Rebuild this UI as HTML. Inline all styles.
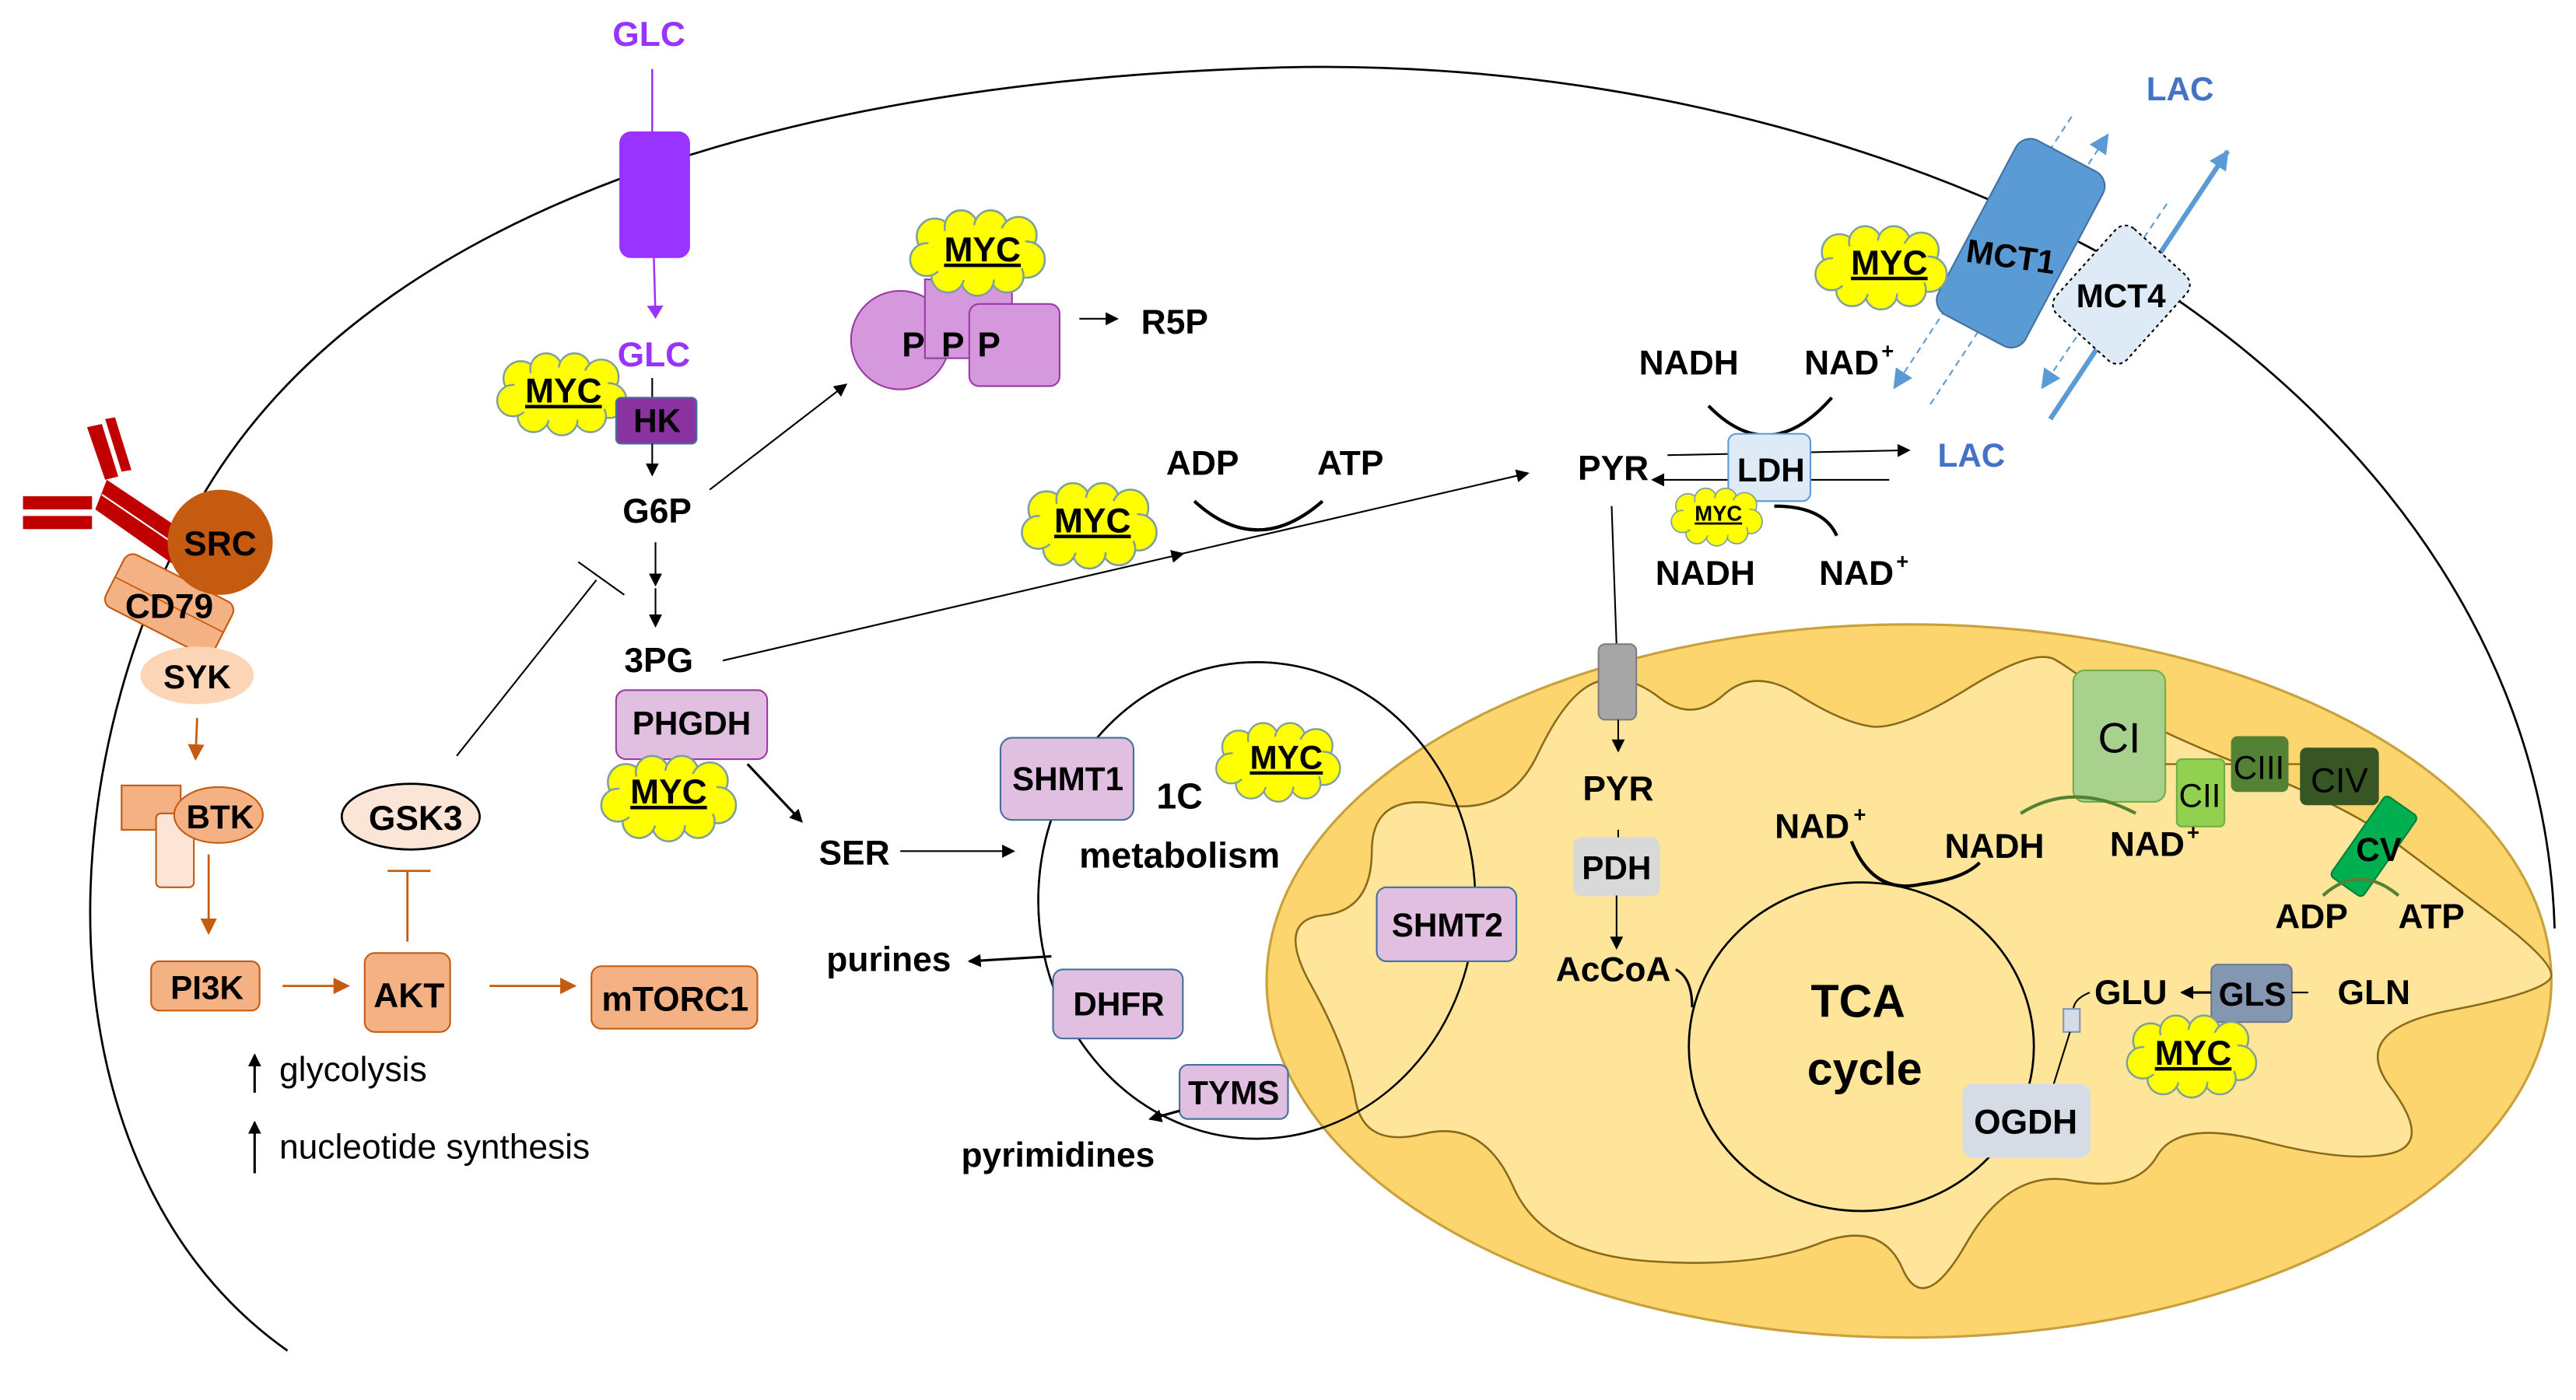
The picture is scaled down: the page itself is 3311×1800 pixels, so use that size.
<!DOCTYPE html>
<html><head><meta charset="utf-8"><style>
html,body{margin:0;padding:0;background:#fff;}
svg{display:block;}
text{font-family:"Liberation Sans",sans-serif;font-weight:bold;fill:#000;text-anchor:middle;}
.n{font-weight:normal;}
</style></head><body>
<svg width="3311" height="1800" viewBox="0 0 1568 852" preserveAspectRatio="none" xmlns="http://www.w3.org/2000/svg">
<defs>
<marker id="a" markerWidth="8" markerHeight="8" refX="7" refY="4" orient="auto" markerUnits="userSpaceOnUse"><path d="M0,0 L8,4 L0,8 z" fill="#000"/></marker>
<marker id="ap" markerWidth="8" markerHeight="10" refX="7" refY="5" orient="auto" markerUnits="userSpaceOnUse"><path d="M0,0 L8,5 L0,10 z" fill="#9933ff"/></marker>
<marker id="ao" markerWidth="10" markerHeight="10" refX="9" refY="5" orient="auto" markerUnits="userSpaceOnUse"><path d="M0,0 L10,5 L0,10 z" fill="#c55a11"/></marker>
<marker id="ab" markerWidth="12" markerHeight="12" refX="11" refY="6" orient="auto" markerUnits="userSpaceOnUse"><path d="M0,0 L12,6 L0,12 z" fill="#5b9bd5"/></marker>
<symbol id="cloud" viewBox="0 0 80 50" overflow="visible">
<g fill="#ffff00" stroke="#7f9f9f" stroke-width="1.2">
<circle cx="14" cy="16" r="11"/><circle cx="30" cy="10" r="10"/><circle cx="48" cy="10" r="10"/><circle cx="65" cy="15" r="11"/>
<circle cx="70" cy="30" r="11"/><circle cx="58" cy="40" r="10"/><circle cx="40" cy="42" r="10"/><circle cx="22" cy="40" r="10"/><circle cx="9" cy="30" r="10"/>
</g><ellipse cx="40" cy="26" rx="32" ry="17" fill="#ffff00"/>
</symbol>
</defs>

<!-- cell membrane -->
<path d="M175,822 C30,720 20,480 125,299 C220,140 450,50 781,41 C1050,35 1250,130 1329,185 C1450,270 1550,400 1555,565" fill="none" stroke="#000" stroke-width="1.3"/>

<!-- 1C circle -->
<ellipse cx="765" cy="548" rx="133" ry="145" fill="none" stroke="#000" stroke-width="1.2"/>

<!-- mitochondrion -->
<ellipse cx="1162" cy="597" rx="391" ry="217" fill="#fcd56e" stroke="#c9a13c" stroke-width="1.5"/>
<path d="M798,599.5 Q776,560 805.5,557 Q835,554 835,518 Q835,482 876.5,489.5 Q918,497 936,459 Q954,421 972,415 Q990,409 1010,424.5 Q1030,440 1049,423 Q1068,406 1094,422.5 Q1120,439 1138,442 Q1156,445 1197,419.5 Q1238,394 1251,401.5 Q1264,409 1282,424.5 Q1300,440 1364.5,465.5 Q1429,491 1455,510.5 Q1481,530 1517,557 Q1553,584 1553,593.5 Q1553,603 1491,615 Q1429,627 1455,661.5 Q1481,696 1455,702 Q1429,708 1377.5,694.5 Q1326,681 1313,703.5 Q1300,726 1261.5,718.5 Q1223,711 1197,756.5 Q1171,802 1158,772 Q1145,742 1106.5,757 Q1068,772 1003.5,767.5 Q939,763 921,722 Q903,681 866.5,690 Q830,699 825,669 Q820,639 798,599.5 Z" fill="#fee59a" stroke="#8a6a1a" stroke-width="1.2"/>
<ellipse cx="765" cy="548" rx="133" ry="145" fill="none" stroke="#000" stroke-width="1.2"/>
<ellipse cx="1133" cy="637" rx="105" ry="100" fill="none" stroke="#000" stroke-width="1.3"/>
<text x="1131" y="619" style="font-size:28px">TCA</text>
<text x="1135" y="660" style="font-size:28px">cycle</text>

<!-- GLC import -->
<text x="395" y="28" style="font-size:21px;fill:#9933ff">GLC</text>
<line x1="397" y1="42" x2="397" y2="80" stroke="#9933ff" stroke-width="1.2"/>
<rect x="377" y="80" width="43" height="77" rx="7" fill="#9933ff"/>
<line x1="398" y1="157" x2="399" y2="193" stroke="#9933ff" stroke-width="1.2" marker-end="url(#ap)"/>
<text x="398" y="223" style="font-size:21px;fill:#9933ff">GLC</text>
<line x1="397" y1="230" x2="397" y2="244" stroke="#000"/>
<use href="#cloud" x="302" y="215" width="80" height="48"/>
<text x="343" y="245" style="font-size:21px;text-decoration:underline">MYC</text>
<rect x="375" y="242" width="49" height="28" rx="3" fill="#8a32a0" stroke="#41719c"/>
<text x="400" y="263" style="font-size:20px">HK</text>
<line x1="397" y1="270" x2="397" y2="289" stroke="#000" marker-end="url(#a)"/>
<text x="400" y="318" style="font-size:21px">G6P</text>
<line x1="399" y1="330" x2="399" y2="356" stroke="#000" marker-end="url(#a)"/>
<line x1="399" y1="358" x2="399" y2="381" stroke="#000" marker-end="url(#a)"/>
<text x="401" y="409" style="font-size:21px">3PG</text>
<line x1="432" y1="298" x2="515" y2="234" stroke="#000" marker-end="url(#a)"/>

<!-- PPP -->
<circle cx="548" cy="207" r="30" fill="#d598dc" stroke="#9b3aa5"/>
<rect x="563" y="170" width="53" height="48" fill="#d598dc" stroke="#9b3aa5"/>
<rect x="590" y="185" width="55" height="50" rx="6" fill="#d598dc" stroke="#9b3aa5"/>
<text x="556" y="217" style="font-size:21px">P</text><text x="580" y="217" style="font-size:21px">P</text><text x="602" y="217" style="font-size:21px">P</text>
<use href="#cloud" x="555" y="128" width="80" height="50"/>
<text x="598" y="159" style="font-size:21px;text-decoration:underline">MYC</text>
<line x1="657" y1="194" x2="680" y2="194" stroke="#000" marker-end="url(#a)"/>
<text x="715" y="203" style="font-size:21px">R5P</text>

<!-- 3PG -> PYR -->
<line x1="440" y1="402" x2="720" y2="337" stroke="#000" marker-end="url(#a)"/>
<line x1="715" y1="338" x2="930" y2="288" stroke="#000" marker-end="url(#a)"/>
<text x="732" y="289" style="font-size:21px">ADP</text>
<text x="822" y="289" style="font-size:21px">ATP</text>
<path d="M727,305 Q765,340 805,305" fill="none" stroke="#000" stroke-width="2"/>
<use href="#cloud" x="622" y="294" width="82" height="50"/>
<text x="665" y="324" style="font-size:21px;text-decoration:underline">MYC</text>

<!-- GSK3 inhibition -->
<line x1="278" y1="460" x2="363" y2="353" stroke="#000"/>
<line x1="352" y1="342" x2="380" y2="362" stroke="#000"/>

<!-- PHGDH -->
<rect x="375" y="420" width="92" height="42" rx="6" fill="#e0bfe0" stroke="#9b3aa5"/>
<text x="421" y="447" style="font-size:20px">PHGDH</text>
<use href="#cloud" x="366" y="460" width="82" height="50"/>
<text x="407" y="489" style="font-size:21px;text-decoration:underline">MYC</text>
<line x1="455" y1="465" x2="488" y2="500" stroke="#000" stroke-width="1.5" marker-end="url(#a)"/>
<text x="520" y="526" style="font-size:21px">SER</text>
<line x1="548" y1="518" x2="617" y2="518" stroke="#000" marker-end="url(#a)"/>

<!-- 1C -->
<rect x="609" y="449" width="81" height="50" rx="7" fill="#e0bfe0" stroke="#41719c"/>
<text x="650" y="481" style="font-size:20px">SHMT1</text>
<text x="718" y="492" style="font-size:22px">1C</text>
<text x="718" y="528" style="font-size:22px">metabolism</text>
<use href="#cloud" x="738" y="440" width="80" height="46"/>
<text x="783" y="468" style="font-size:20px;text-decoration:underline">MYC</text>
<line x1="640" y1="582" x2="590" y2="585" stroke="#000" stroke-width="1.5" marker-end="url(#a)"/>
<text x="541" y="591" style="font-size:21px">purines</text>
<rect x="641" y="590" width="79" height="42" rx="6" fill="#e0bfe0" stroke="#41719c"/>
<text x="681" y="618" style="font-size:20px">DHFR</text>
<rect x="718" y="648" width="66" height="33" rx="5" fill="#e0bfe0" stroke="#41719c"/>
<text x="751" y="672" style="font-size:20px">TYMS</text>
<line x1="718" y1="676" x2="700" y2="681" stroke="#000" stroke-width="1.5" marker-end="url(#a)"/>
<text x="644" y="710" style="font-size:21px">pyrimidines</text>
<rect x="838" y="540" width="85" height="45" rx="6" fill="#e0bfe0" stroke="#41719c"/>
<text x="881" y="570" style="font-size:20px">SHMT2</text>

<!-- BCR signalling -->
<g fill="#c00000">
<polygon points="53,260 62,258 72,290 64,292"/><polygon points="64,255 70,254 80,286 74,287"/>
<rect x="14" y="302" width="42" height="8"/><rect x="14" y="314" width="42" height="8"/>
<polygon points="65,292 122,330 112,348 58,310"/>
</g>
<line x1="62" y1="301" x2="118" y2="339" stroke="#fff" stroke-width="1"/>
<g transform="rotate(27 103 368)">
<rect x="66" y="350" width="74" height="36" rx="6" fill="#f4b183" stroke="#c55a11"/>
<line x1="66" y1="368" x2="140" y2="368" stroke="#c55a11" stroke-width="0.8"/>
</g>
<circle cx="134" cy="330" r="32" fill="#c55a11"/>
<text x="134" y="338" style="font-size:21px">SRC</text>
<text x="103" y="376" style="font-size:21px">CD79</text>
<ellipse cx="120" cy="411" rx="34" ry="17" fill="#fbd5b5" stroke="#fbd5b5"/>
<text x="120" y="419" style="font-size:20px">SYK</text>
<line x1="120" y1="437" x2="119" y2="462" stroke="#c55a11" stroke-width="1.3" marker-end="url(#ao)"/>
<rect x="74" y="478" width="36" height="27" fill="#f4b183" stroke="#c55a11"/>
<rect x="95" y="495" width="23" height="45" rx="3" fill="#fce4d6" stroke="#c55a11"/>
<ellipse cx="133" cy="496" rx="27" ry="17" fill="#f4b183" stroke="#c55a11"/>
<text x="134" y="504" style="font-size:20px">BTK</text>
<line x1="127" y1="520" x2="127" y2="568" stroke="#c55a11" stroke-width="1.3" marker-end="url(#ao)"/>
<rect x="92" y="585" width="66" height="30" rx="5" fill="#f4b183" stroke="#c55a11"/>
<text x="126" y="608" style="font-size:20px">PI3K</text>
<line x1="172" y1="600" x2="212" y2="600" stroke="#c55a11" stroke-width="1.3" marker-end="url(#ao)"/>
<rect x="222" y="580" width="52" height="48" rx="6" fill="#f4b183" stroke="#c55a11"/>
<text x="249" y="613" style="font-size:21px">AKT</text>
<line x1="298" y1="600" x2="350" y2="600" stroke="#c55a11" stroke-width="1.3" marker-end="url(#ao)"/>
<rect x="360" y="588" width="101" height="38" rx="6" fill="#f4b183" stroke="#c55a11"/>
<text x="411" y="615" style="font-size:21px">mTORC1</text>
<ellipse cx="250" cy="497" rx="42" ry="20" fill="#fbe5d6" stroke="#000" stroke-width="1.3"/>
<text x="253" y="505" style="font-size:21px">GSK3</text>
<line x1="248" y1="573" x2="248" y2="530" stroke="#c55a11" stroke-width="1.3"/>
<line x1="236" y1="530" x2="262" y2="530" stroke="#c55a11" stroke-width="1.3"/>
<line x1="155" y1="665" x2="155" y2="642" stroke="#000" stroke-width="1.5" marker-end="url(#a)"/>
<text x="170" y="658" class="n" style="font-size:21px;text-anchor:start">glycolysis</text>
<line x1="155" y1="714" x2="155" y2="683" stroke="#000" stroke-width="1.5" marker-end="url(#a)"/>
<text x="170" y="705" class="n" style="font-size:21px;text-anchor:start">nucleotide synthesis</text>

<!-- MCT -->
<line x1="1261" y1="71" x2="1153" y2="236" stroke="#5b9bd5" stroke-width="1" stroke-dasharray="4,3" marker-end="url(#ab)"/>
<line x1="1175" y1="246" x2="1283" y2="82" stroke="#5b9bd5" stroke-width="1" stroke-dasharray="4,3" marker-end="url(#ab)"/>
<line x1="1319" y1="124" x2="1243" y2="236" stroke="#5b9bd5" stroke-width="1" stroke-dasharray="4,3" marker-end="url(#ab)"/>
<line x1="1248" y1="255" x2="1356" y2="92" stroke="#5b9bd5" stroke-width="3" marker-end="url(#ab)"/>
<g transform="rotate(28 1230 148)"><rect x="1200" y="88" width="60" height="120" rx="10" fill="#5b9bd5" stroke="#41719c"/></g>
<g transform="rotate(42 1292 180)"><rect x="1262" y="145" width="58" height="70" rx="8" fill="#deebf7" stroke="#000" stroke-dasharray="2,2"/></g>
<text x="1224" y="163" style="font-size:20px" transform="rotate(8 1224 156)">MCT1</text>
<text x="1291" y="187" style="font-size:20px">MCT4</text>
<use href="#cloud" x="1106" y="137" width="78" height="50"/>
<text x="1150" y="167" style="font-size:21px;text-decoration:underline">MYC</text>
<text x="1327" y="61" style="font-size:20px;fill:#4472c4">LAC</text>

<!-- LDH -->
<text x="1028" y="228" style="font-size:21px">NADH</text>
<text x="1121" y="228" style="font-size:21px">NAD</text><text x="1149" y="218" style="font-size:13px">+</text>
<path d="M1040,247 Q1077,285 1115,242" fill="none" stroke="#000" stroke-width="2"/>
<text x="982" y="292" style="font-size:21px">PYR</text>
<line x1="1015" y1="277" x2="1162" y2="274" stroke="#000" marker-end="url(#a)"/>
<line x1="1150" y1="292" x2="1006" y2="292" stroke="#000" marker-end="url(#a)"/>
<rect x="1052" y="264" width="50" height="41" rx="5" fill="#deebf7" stroke="#5b9bd5"/>
<text x="1078" y="293" style="font-size:20px">LDH</text>
<text x="1200" y="284" style="font-size:20px;fill:#4472c4">LAC</text>
<path d="M1080,308 Q1110,308 1118,326" fill="none" stroke="#000" stroke-width="2"/>
<use href="#cloud" x="1018" y="296" width="54" height="36"/>
<text x="1046" y="317" style="font-size:13px;text-decoration:underline">MYC</text>
<text x="1038" y="356" style="font-size:21px">NADH</text>
<text x="1130" y="356" style="font-size:21px">NAD</text><text x="1158" y="346" style="font-size:13px">+</text>

<!-- mito contents -->
<line x1="981" y1="308" x2="984" y2="393" stroke="#000" stroke-width="1"/>
<rect x="973" y="392" width="23" height="46" rx="4" fill="#a6a6a6" stroke="#7f7f7f"/>
<line x1="985" y1="438" x2="985" y2="457" stroke="#000" marker-end="url(#a)"/>
<text x="985" y="487" style="font-size:21px">PYR</text>
<line x1="985" y1="505" x2="985" y2="512" stroke="#000"/>
<rect x="958" y="510" width="52" height="35" rx="5" fill="#d9d9d9" stroke="#d9d9d9"/>
<text x="984" y="535" style="font-size:20px">PDH</text>
<line x1="984" y1="545" x2="984" y2="577" stroke="#000" marker-end="url(#a)"/>
<text x="982" y="597" style="font-size:21px">AcCoA</text>
<path d="M1020,590 Q1030,595 1030,613" fill="none" stroke="#000" stroke-width="1.5"/>
<text x="1103" y="510" style="font-size:21px">NAD</text><text x="1132" y="500" style="font-size:13px">+</text>
<text x="1214" y="522" style="font-size:21px">NADH</text>
<path d="M1127,512 Q1140,545 1170,538 Q1195,535 1205,525" fill="none" stroke="#000" stroke-width="2"/>
<rect x="1262" y="408" width="56" height="80" rx="7" fill="#a9d18e" stroke="#70ad47"/>
<text x="1290" y="458" class="n" style="font-size:26px">CI</text>
<line x1="1318" y1="465" x2="1400" y2="465" stroke="#7f6000" stroke-width="1"/>
<rect x="1325" y="462" width="29" height="41" rx="3" fill="#92d050" stroke="#70ad47"/>
<text x="1339" y="491" class="n" style="font-size:20px">CII</text>
<rect x="1358" y="448" width="35" height="34" rx="4" fill="#548235"/>
<text x="1375" y="474" class="n" style="font-size:20px">CIII</text>
<rect x="1400" y="455" width="48" height="35" rx="4" fill="#375623"/>
<text x="1424" y="482" class="n" style="font-size:21px">CIV</text>
<g transform="rotate(35 1445 515)"><rect x="1433" y="485" width="24" height="60" rx="3" fill="#00b050" stroke="#00803a"/></g>
<text x="1448" y="524" style="font-size:20px">CV</text>
<path d="M1230,495 Q1262,475 1300,495" fill="none" stroke="#548235" stroke-width="2"/>
<text x="1307" y="521" style="font-size:21px">NAD</text><text x="1335" y="511" style="font-size:13px">+</text>
<path d="M1414,545 Q1436,525 1460,545" fill="none" stroke="#548235" stroke-width="2"/>
<text x="1407" y="565" style="font-size:21px">ADP</text>
<text x="1480" y="565" style="font-size:21px">ATP</text>
<text x="1297" y="611" style="font-size:21px">GLU</text>
<rect x="1346" y="587" width="49" height="35" rx="4" fill="#8497b0" stroke="#6a7a90"/>
<text x="1371" y="612" style="font-size:20px">GLS</text>
<line x1="1346" y1="604" x2="1328" y2="604" stroke="#000" stroke-width="1.5" marker-end="url(#a)"/>
<line x1="1395" y1="604" x2="1405" y2="604" stroke="#000"/>
<text x="1445" y="611" style="font-size:21px">GLN</text>
<path d="M1272,604 Q1262,608 1262,615" fill="none" stroke="#000"/>
<rect x="1256" y="614" width="10" height="14" fill="#d6dce5" stroke="#8497b0"/>
<line x1="1260" y1="628" x2="1250" y2="660" stroke="#000"/>
<use href="#cloud" x="1292" y="618" width="84" height="48"/>
<text x="1335" y="648" style="font-size:21px;text-decoration:underline">MYC</text>
<rect x="1195" y="660" width="77" height="44" rx="6" fill="#d6dce5" stroke="#d6dce5"/>
<text x="1233" y="690" style="font-size:21px">OGDH</text>
</svg>
</body></html>
